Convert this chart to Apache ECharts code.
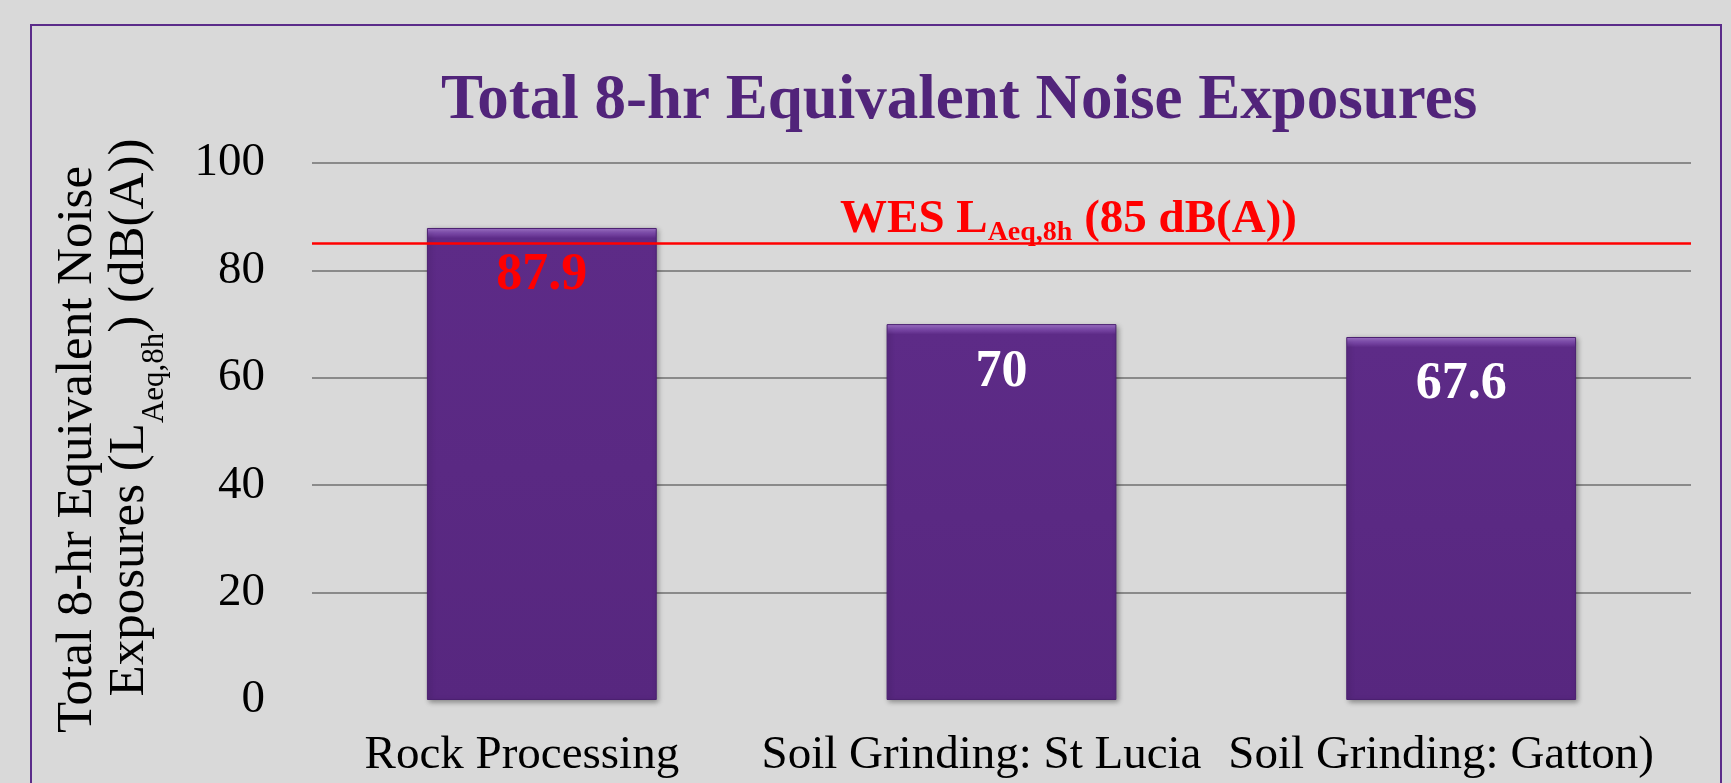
<!DOCTYPE html>
<html>
<head>
<meta charset="utf-8">
<title>Total 8-hr Equivalent Noise Exposures</title>
<script src="https://cdn.jsdelivr.net/npm/echarts@6/dist/echarts.min.js"></script>
<style>
  html, body { margin: 0; padding: 0; background: #d9d9d9; }
  #chart { width: 1731px; height: 783px; }
</style>
</head>
<body>
<div id="chart"></div>
<script>
// data
const categories = ['Rock Processing', 'Soil Grinding: St Lucia', 'Soil Grinding: Gatton)']
const exposures = [87.9, 70, 67.6]
const wesLimit = 85
const yTicks = { min: 0, max: 100, interval: 20 }

const serif = '"Liberation Serif", "Times New Roman", serif'

var myChart = echarts.init(document.getElementById('chart'))

// bevelled top on each bar, roughly 10px of a ~537px tall plot
function barColor(v) {
  var f = 1.9 / v
  return new echarts.graphic.LinearGradient(0, 0, 0, 1, [
    { offset: 0, color: '#a578cf' },
    { offset: f * 0.5, color: '#7d4bab' },
    { offset: f, color: '#5d2b87' },
    { offset: 1, color: '#57277f' },
  ])
}

let option = {
  backgroundColor: '#d9d9d9',
  textStyle: { fontFamily: serif },
  title: {
    text: 'Total 8-hr Equivalent Noise Exposures',
    left: 436,
    top: 65,
    textStyle: {
      color: '#51247a',
      fontFamily: serif,
      fontWeight: 'bold',
      fontSize: 63,
      lineHeight: 63,
    },
  },
  graphic: [
    {
      type: 'rect',
      left: 30,
      top: 24,
      shape: { width: 1690, height: 820 },
      style: { fill: 'transparent', stroke: '#5b2c8a', lineWidth: 2 },
      silent: true,
    },
  ],
  grid: { left: 312, right: 40, top: 163, bottom: 83 },
  xAxis: {
    type: 'category',
    data: categories,
    axisLine: { show: false },
    axisTick: { show: false },
    axisLabel: {
      interval: 0,
      margin: 32,
      color: '#000',
      fontFamily: serif,
      fontSize: 47,
      lineHeight: 47,
      padding: [0, 40, 0, 0],
    },
  },
  yAxis: {
    type: 'value',
    min: yTicks.min,
    max: yTicks.max,
    interval: yTicks.interval,
    name: '{t|Total 8-hr Equivalent Noise}\n{m0|Exposures (L}{s|Aeq,8h}{m|) (dB(A))}',
    nameLocation: 'middle',
    nameGap: 142,
    nameTextStyle: {
      color: '#000',
      fontFamily: serif,
      rich: {
        t: { fontSize: 51, lineHeight: 52, verticalAlign: 'top', padding: [0, 36, 0, 0], fontFamily: serif, color: '#000' },
        m0: { fontSize: 51, lineHeight: 66, verticalAlign: 'top', padding: [0, 0, 0, 28], fontFamily: serif, color: '#000' },
        m: { fontSize: 51, lineHeight: 66, verticalAlign: 'top', fontFamily: serif, color: '#000' },
        s: { fontSize: 31, lineHeight: 31, verticalAlign: 'bottom', fontFamily: serif, color: '#000' },
      },
    },
    axisLine: { show: false },
    axisTick: { show: false },
    axisLabel: {
      margin: 47,
      color: '#000',
      fontFamily: serif,
      fontSize: 47,
    },
    splitLine: {
      lineStyle: {
        color: ['transparent', '#8a8a8a', '#8a8a8a', '#8a8a8a', '#8a8a8a', '#8a8a8a'],
        width: 2,
      },
    },
  },
  series: [
    {
      type: 'bar',
      barWidth: '50%',
      data: exposures.map((v) => ({
        value: v,
        itemStyle: { color: barColor(v) },
        label: { color: v > wesLimit ? '#ff0000' : '#ffffff' },
      })),
      itemStyle: {
        borderColor: '#4b2070',
        borderWidth: 1,
        shadowColor: 'rgba(0, 0, 0, 0.35)',
        shadowBlur: 5,
        shadowOffsetX: 2,
        shadowOffsetY: 2,
      },
      label: {
        show: true,
        position: 'insideTop',
        distance: 22,
        fontFamily: serif,
        fontWeight: 'bold',
        fontSize: 52,
        lineHeight: 52,
      },
      markLine: {
        silent: true,
        symbol: 'none',
        lineStyle: { color: '#ff0000', width: 2.5, type: 'solid' },
        data: [{ yAxis: wesLimit }],
        label: {
          position: 'insideMiddleTop',
          distance: -3,
          offset: [67, 0],
          formatter: '{a|WES L}{s|Aeq,8h}{a| (85 dB(A))}',
          rich: {
            a: { fontSize: 47, lineHeight: 50, verticalAlign: 'top', fontWeight: 'bold', color: '#ff0000', fontFamily: serif },
            s: { fontSize: 28, lineHeight: 28, verticalAlign: 'bottom', fontWeight: 'bold', color: '#ff0000', fontFamily: serif },
          },
        },
      },
    },
  ],
}
myChart.setOption(option)
</script>
</body>
</html>
